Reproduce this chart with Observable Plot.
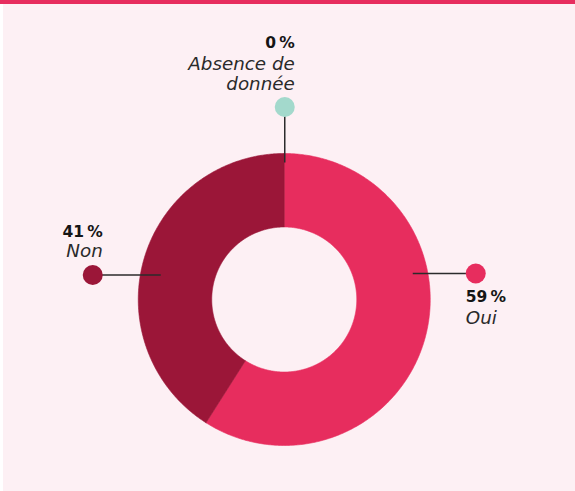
<!DOCTYPE html>
<html>
<head>
<meta charset="utf-8">
<script src="https://cdn.jsdelivr.net/npm/d3@7"></script>
<script src="https://cdn.jsdelivr.net/npm/@observablehq/plot@0.6"></script>
<style>
  html, body { margin: 0; padding: 0; background: #ffffff; }
  #page { position: relative; width: 575px; height: 491px; overflow: hidden; }
  #panel { position: absolute; left: 3px; top: 0; right: 0; bottom: 0; background: #FDF0F4; }
  #bar { position: absolute; left: 0; top: 0; width: 575px; height: 4px; background: #E72D5E; }
  #chart { position: absolute; left: 0; top: 0; }
</style>
</head>
<body>
<div id="page">
  <div id="panel"></div>
  <div id="bar"></div>
  <div id="chart"></div>
</div>
<script>
// ---- data ----
const categories = ["Oui", "Non", "Absence de donnée"];
const values = [59, 41, 0];
const percentLabels = ["59\u202F%", "41\u202F%", "0\u202F%"];
const categoryLabels = ["Oui", "Non", "Absence de\ndonnée"];
const colors = ["#E72D5E", "#9B1638", "#A3D9CC"];

// ---- layout (pixel offsets from the donut centre, y up) ----
const W = 575, H = 491;
const CX = 283.75, CY = 299;
const R_OUT = 146, R_IN = 72.5;
const layout = {
  "Oui":               {dot: [191.5, 26],    from: [128.5, 26],    tx: 181.5,  anchor: "start", pctY: -2.5,  catY: -24 },
  "Non":               {dot: [-191.5, 24.5], from: [-123.5, 24.5], tx: -181.5, anchor: "end",   pctY: 63,    catY: 42.5 },
  "Absence de donnée": {dot: [0.5, 192.5],   from: [0.5, 137],     tx: 10.5,   anchor: "end",   pctY: 251.5, catY: 210 }
};

const rows = categories.map((c, i) => ({category: c, value: values[i], pct: percentLabels[i], label: categoryLabels[i], color: colors[i], ...layout[c]}));

// slices from d3.pie, sampled into polygons
const pie = d3.pie().sort(null).value(d => d.value).startAngle(0).endAngle(2 * Math.PI);
const arcs = pie(rows);
const slicePts = [];
for (const a of arcs) {
  if (a.endAngle - a.startAngle <= 0) continue;
  const n = Math.max(2, Math.ceil((a.endAngle - a.startAngle) / 0.01));
  const pts = [];
  for (let k = 0; k <= n; k++) {
    const t = a.startAngle + (a.endAngle - a.startAngle) * k / n;
    pts.push([R_OUT * Math.sin(t), R_OUT * Math.cos(t)]);
  }
  for (let k = n; k >= 0; k--) {
    const t = a.startAngle + (a.endAngle - a.startAngle) * k / n;
    pts.push([R_IN * Math.sin(t), R_IN * Math.cos(t)]);
  }
  pts.push(pts[0]);
  for (const p of pts) slicePts.push({category: a.data.category, x: p[0], y: p[1]});
}

const left = rows.filter(d => d.anchor === "end");
const right = rows.filter(d => d.anchor === "start");
const pctStyle = {fontFamily: "DejaVu Sans", fontWeight: 700, fontSize: 15.5, fill: "#151515", lineAnchor: "bottom"};
const catStyle = {fontFamily: "DejaVu Sans", fontStyle: "italic", fontWeight: 300, fontSize: 18.3, fill: "#2a2a2a", lineAnchor: "bottom", lineHeight: 1.04};

const chart = Plot.plot({
  width: W, height: H,
  margin: 0,
  style: {background: "transparent", overflow: "visible"},
  x: {domain: [-CX, W - CX], range: [0, W], axis: null},
  y: {domain: [CY - H, CY], range: [H, 0], axis: null},
  color: {domain: categories, range: colors},
  marks: [
    Plot.line(slicePts, {x: "x", y: "y", z: "category", fill: "category", stroke: "category", strokeWidth: 0.6, curve: "linear"}),
    Plot.link(rows, {x1: d => d.from[0], y1: d => d.from[1], x2: d => d.dot[0], y2: d => d.dot[1], stroke: "#2b2b2b", strokeWidth: 1.5}),
    Plot.dot(rows, {x: d => d.dot[0], y: d => d.dot[1], r: 10, fill: "category", stroke: null}),
    Plot.text(left,  {x: "tx", y: "pctY", text: "pct", textAnchor: "end", ...pctStyle}),
    Plot.text(right, {x: "tx", y: "pctY", text: "pct", textAnchor: "start", ...pctStyle}),
    Plot.text(left,  {x: "tx", y: "catY", text: "label", textAnchor: "end", ...catStyle}),
    Plot.text(right, {x: "tx", y: "catY", text: "label", textAnchor: "start", ...catStyle})
  ]
});
document.getElementById("chart").appendChild(chart);
</script>
</body>
</html>
